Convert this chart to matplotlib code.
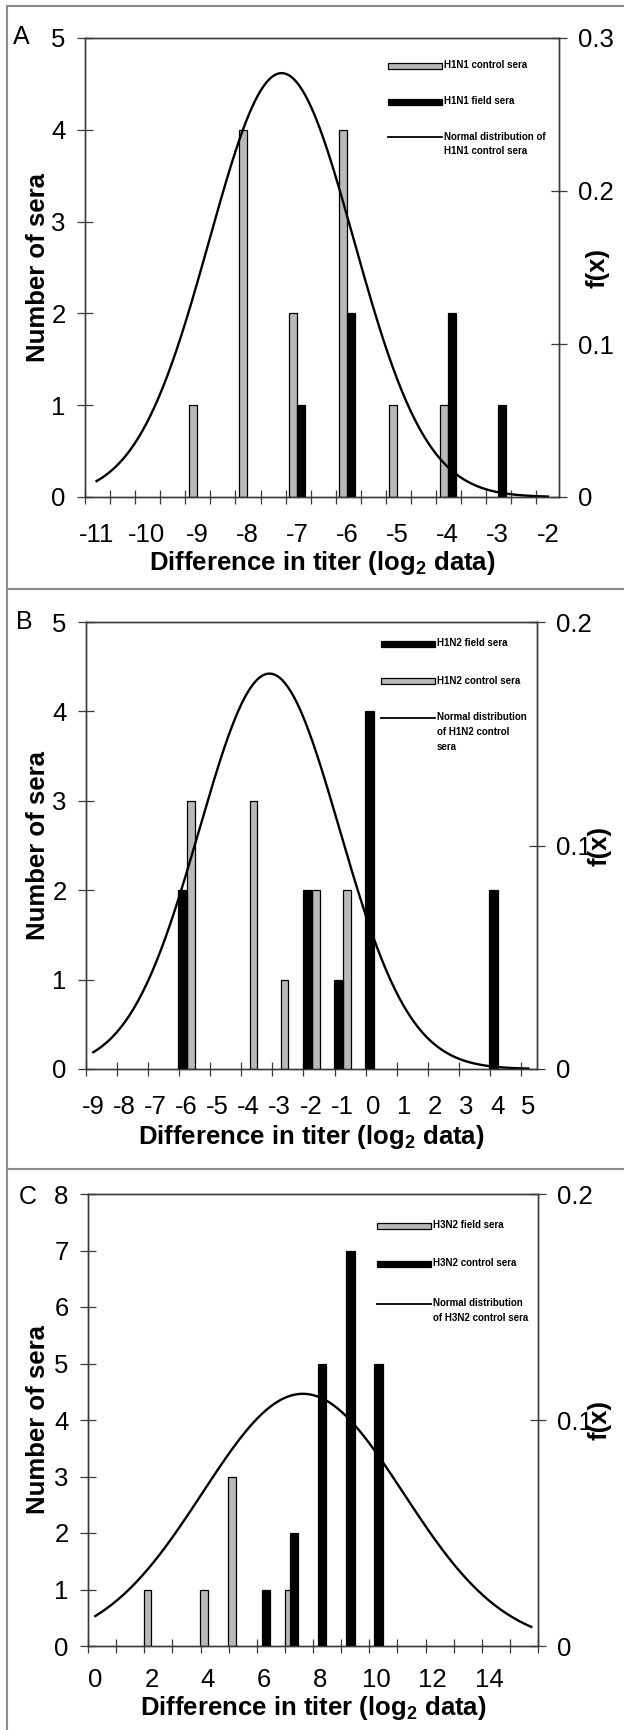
import numpy as np
import matplotlib
matplotlib.use("Agg")
import matplotlib.pyplot as plt
from matplotlib.patches import Rectangle
from matplotlib.lines import Line2D

plt.rcParams["font.family"] = ["Liberation Sans", "DejaVu Sans"]
plt.rcParams["mathtext.fontset"] = "custom"
plt.rcParams["mathtext.rm"] = "Liberation Sans"
plt.rcParams["mathtext.bf"] = "Liberation Sans:bold"

# ---- values ----
# A: H1N1
A_CONTROL_X = [-9, -8, -7, -6, -5, -4]
A_CONTROL_N = [1, 4, 2, 4, 1, 1]
A_FIELD_X = [-7, -6, -4, -3]
A_FIELD_N = [1, 2, 2, 1]
A_XLABELS = list(range(-11, -1))
A_NORM_MEAN, A_NORM_SD = -7.31, 1.44      # normal curve as drawn
A_NORM_FROM, A_NORM_TO = -11, -2

# B: H1N2
B_FIELD_X = [-6, -2, -1, 0, 4]
B_FIELD_N = [2, 2, 1, 4, 2]
B_CONTROL_X = [-6, -4, -3, -2, -1]
B_CONTROL_N = [3, 3, 1, 2, 2]
B_XLABELS = list(range(-9, 6))
B_NORM_MEAN, B_NORM_SD = -3.33, 2.255
B_NORM_FROM, B_NORM_TO = -9, 5

# C: H3N2
C_FIELD_X = [2, 4, 5, 7]
C_FIELD_N = [1, 1, 3, 1]
C_CONTROL_X = [6, 7, 8, 9, 10]
C_CONTROL_N = [1, 2, 5, 7, 5]
C_XLABELS = list(range(0, 15, 2))
C_NORM_MEAN, C_NORM_SD = 7.38, 3.575
C_NORM_FROM, C_NORM_TO = 0, 15.5

W, H = 624, 1730
GRAY = "#b9b9b9"
SPINE = "#3a3a3a"
TICK_FS = 18.5
LAB_FS = 18.5


def fx(px):
    return px / W


def fy(py):
    return 1 - py / H


def normal_pdf(x, mu, sd):
    return np.exp(-0.5 * ((x - mu) / sd) ** 2) / (sd * np.sqrt(2 * np.pi))


def legend_entry(fig, kind, text, x0, x1, y):
    # hand-placed legend rows (the original has wide, flat keys with big gaps)
    if kind == "line":
        fig.add_artist(Line2D([fx(x0), fx(x1)], [fy(y), fy(y)], color="black",
                              lw=1.3, transform=fig.transFigure))
    else:
        fig.add_artist(Rectangle((fx(x0), fy(y + 3)), fx(x1) - fx(x0), 6 / H,
                                 facecolor=GRAY if kind == "gray" else "black",
                                 edgecolor="black", lw=0.9, transform=fig.transFigure))
    fig.text(fx(x1 + 2), fy(y - 5.5), text, fontsize=7, fontweight="bold",
             ha="left", va="top", linespacing=1.6)


def panel(fig, p):
    l, t, r, b = p["box"]
    ax = fig.add_axes([fx(l), fy(b), fx(r) - fx(l), (b - t) / H])
    ax2 = ax.twinx()

    for x, n, kind, (off, w) in p["bars"]:
        ax.bar(np.array(x) + off, n, width=w, align="edge",
               color=GRAY if kind == "gray" else "black",
               edgecolor="black", lw=0.9, zorder=2 if kind == "gray" else 3)

    xs = np.linspace(p["norm_from"], p["norm_to"], 300)
    ax2.plot(xs, normal_pdf(xs, p["mean"], p["sd"]), color="black", lw=1.7)

    ax.set_xlim(*p["xlim"])
    ax.set_ylim(0, p["ymax"])
    ax.set_yticks(range(p["ymax"] + 1))
    ax2.set_ylim(0, p["rmax"])
    ax2.set_yticks(p["rticks"], [("%g" % v) for v in p["rticks"]])

    # labels sit between the tick marks, as in the Excel original
    ax.set_xticks(p["xlabels"], [str(v) for v in p["xlabels"]])
    t0, step, cnt = p["minor"]
    ax.set_xticks([t0 + step * k for k in range(cnt)], minor=True)

    ax.tick_params(axis="x", which="major", length=0, pad=p["xpad"], labelsize=TICK_FS)
    ax.tick_params(axis="x", which="minor", direction="inout", length=9.5,
                   width=0.9, color=SPINE)
    ax.tick_params(axis="y", direction="inout", length=11, width=0.9, color=SPINE,
                   pad=8.5, labelsize=TICK_FS)
    ax2.tick_params(axis="y", direction="inout", length=11, width=0.9, color=SPINE,
                    pad=8, labelsize=TICK_FS)
    for a in (ax, ax2):
        for s in a.spines.values():
            s.set_color(SPINE)
            s.set_linewidth(1.0)

    fig.text(fx(p["letter_xy"][0]), fy(p["letter_xy"][1]), p["letter"],
             fontsize=18, ha="center", va="center")
    fig.text(fx(38), fy((t + b) / 2), "Number of sera", rotation=90,
             fontsize=LAB_FS, fontweight="bold", ha="center", va="center")
    fig.text(fx(p["fx_x"]), fy((t + b) / 2), "f(x)", rotation=90,
             fontsize=LAB_FS, fontweight="bold", ha="center", va="center")
    fig.text(fx((l + r) / 2), fy(p["xlab_y"] + 2),
             r"Difference in titer (log$_\mathbf{2}$ data)",
             fontsize=LAB_FS, fontweight="bold", ha="center", va="center")

    x0, x1 = p["leg_x"]
    for kind, text, y in p["legend"]:
        legend_entry(fig, kind, text, x0, x1, y)


fig = plt.figure(figsize=(W / 100, H / 100), dpi=100)

PANELS = [
    dict(box=(85, 38, 559, 497), letter="A", letter_xy=(21, 37),
         xlim=(-11.23, -1.78), minor=(-11.23, 0.5, 19), xlabels=A_XLABELS,
         ymax=5, rmax=0.3, rticks=[0, 0.1, 0.2, 0.3],
         bars=[(A_CONTROL_X, A_CONTROL_N, "gray", (-0.16, 0.16)),
               (A_FIELD_X, A_FIELD_N, "black", (0.0, 0.16))],
         mean=A_NORM_MEAN, sd=A_NORM_SD, norm_from=A_NORM_FROM, norm_to=A_NORM_TO,
         fx_x=597, xlab_y=561, xpad=19, leg_x=(388, 442),
         legend=[("gray", "H1N1 control sera", 66),
                 ("black", "H1N1 field sera", 102),
                 ("line", "Normal distribution of\nH1N1 control sera", 137)]),
    dict(box=(86, 622, 537, 1069), letter="B", letter_xy=(24, 622),
         xlim=(-9.235, 5.28), minor=(-9.235, 1.0, 15), xlabels=B_XLABELS,
         ymax=5, rmax=0.2, rticks=[0, 0.1, 0.2],
         bars=[(B_FIELD_X, B_FIELD_N, "black", (-0.26, 0.29)),
               (B_CONTROL_X, B_CONTROL_N, "gray", (0.03, 0.25))],
         mean=B_NORM_MEAN, sd=B_NORM_SD, norm_from=B_NORM_FROM, norm_to=B_NORM_TO,
         fx_x=600, xlab_y=1135, xpad=19, leg_x=(381, 435),
         legend=[("black", "H1N2 field sera", 644),
                 ("gray", "H1N2 control sera", 681),
                 ("line", "Normal distribution\nof H1N2 control\nsera", 718)]),
    dict(box=(88, 1194, 538, 1646), letter="C", letter_xy=(28, 1197),
         xlim=(-0.26, 15.72), minor=(-0.26, 1.0, 17), xlabels=C_XLABELS,
         ymax=8, rmax=0.2, rticks=[0, 0.1, 0.2],
         bars=[(C_FIELD_X, C_FIELD_N, "gray", (-0.27, 0.26)),
               (C_CONTROL_X, C_CONTROL_N, "black", (-0.08, 0.30))],
         mean=C_NORM_MEAN, sd=C_NORM_SD, norm_from=C_NORM_FROM, norm_to=C_NORM_TO,
         fx_x=600, xlab_y=1706, xpad=15.5, leg_x=(377, 431),
         legend=[("gray", "H3N2 field sera", 1226),
                 ("black", "H3N2 control sera", 1264),
                 ("line", "Normal distribution\nof H3N2 control sera", 1304)]),
]

for p in PANELS:
    panel(fig, p)

# outer frame and panel separators
frame = dict(color="#8a8a8a", lw=1.5, transform=fig.transFigure)
fig.add_artist(Line2D([fx(7), 1], [fy(6), fy(6)], **frame))
fig.add_artist(Line2D([fx(7), fx(7)], [fy(6), 0], **frame))
for y in (589, 1169):
    fig.add_artist(Line2D([fx(7), 1], [fy(y), fy(y)], **frame))

fig.savefig("out.png", dpi=100, facecolor="white")
